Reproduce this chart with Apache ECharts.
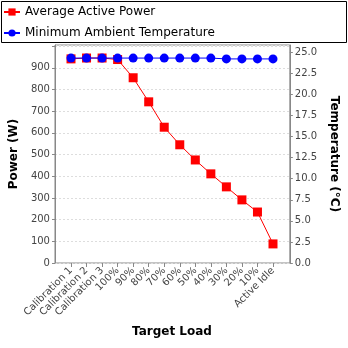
<!DOCTYPE html>
<html>
<head>
<meta charset="utf-8">
<script src="https://cdn.jsdelivr.net/npm/echarts@6/dist/echarts.min.js"></script>
<style>html,body{margin:0;padding:0;background:#fff}#c{width:348px;height:348px}</style>
</head>
<body>
<div id="c"></div>
<script>
const categories = ['Calibration 1','Calibration 2','Calibration 3','100%','90%','80%','70%','60%','50%','40%','30%','20%','10%','Active Idle'];
const powerValues = [941, 945, 945, 938, 854, 743, 626, 545, 475, 411, 351, 291, 235, 88];
const tempValues = [24.3, 24.3, 24.3, 24.3, 24.3, 24.3, 24.3, 24.3, 24.3, 24.3, 24.2, 24.2, 24.2, 24.2];
const powerName = 'Average Active Power';
const tempName = 'Minimum Ambient Temperature';

const FONT = 'DejaVu Sans';
const PMAX = 1005, TMAX = 25.85;
const gridTop = 45, gridBottom = 85;
const chart = echarts.init(document.getElementById('c'), null, {renderer: 'canvas'});
chart.setOption({
  animation: false,
  backgroundColor: '#fff',
  textStyle: {fontFamily: FONT},
  graphic: [{
    type: 'rect', shape: {x: 1.5, y: 1.5, width: 345, height: 41},
    style: {fill: 'none', stroke: '#000', lineWidth: 1}, z: 0
  }],
  legend: {
    orient: 'vertical', left: 0, top: 0, padding: [6, 3], itemGap: 9, itemWidth: 16, itemHeight: 9,
    textStyle: {fontFamily: FONT, fontSize: 12, color: '#000'},
    data: [powerName, tempName]
  },
  grid: [
    {left: 53, right: 57, top: gridTop, bottom: gridBottom, show: true, borderColor: '#888', borderWidth: 1, backgroundColor: '#fff'},
    {left: 71, right: 75, top: gridTop, bottom: gridBottom}
  ],
  xAxis: [
    {type: 'value', gridIndex: 0, min: 0, max: 1, show: false},
    {type: 'category', gridIndex: 1, data: categories, boundaryGap: false,
     axisLine: {show: false},
     axisTick: {show: true, length: 4, lineStyle: {color: '#888'}},
     axisLabel: {rotate: 45, fontSize: 10, color: '#444', margin: 6, interval: 0},
     name: 'Target Load', nameLocation: 'middle', nameGap: 63,
     nameTextStyle: {fontSize: 12, fontWeight: 'bold', color: '#000'}}
  ],
  yAxis: [
    {type: 'value', gridIndex: 0, position: 'left', min: 0, max: PMAX, interval: 100,
     axisLine: {show: true, lineStyle: {color: '#888'}},
     axisTick: {show: true, length: 3, lineStyle: {color: '#888'}},
     axisLabel: {fontSize: 10, color: '#444', margin: 5, showMaxLabel: false,
       formatter: v => (v > 950 ? '' : String(v))},
     splitLine: {show: true, lineStyle: {color: '#ddd', type: [2, 2]}},
     name: 'Power (W)', nameLocation: 'middle', nameRotate: 90, nameGap: 31,
     nameTextStyle: {fontSize: 12, fontWeight: 'bold', color: '#000'}},
    {type: 'value', gridIndex: 0, position: 'right', min: 0, max: TMAX, interval: 2.5,
     axisLine: {show: true, lineStyle: {color: '#888'}},
     axisTick: {show: true, length: 3, lineStyle: {color: '#888'}},
     axisLabel: {fontSize: 10, color: '#444', margin: 5, showMaxLabel: false, formatter: v => v.toFixed(1)},
     splitLine: {show: false},
     name: 'Temperature (°C)', nameLocation: 'middle', nameRotate: -90, nameGap: 35,
     nameTextStyle: {fontSize: 12, fontWeight: 'bold', color: '#000'}},
    {type: 'value', gridIndex: 1, min: 0, max: PMAX, show: false},
    {type: 'value', gridIndex: 1, min: 0, max: TMAX, show: false}
  ],
  series: [
    {name: powerName, type: 'line', xAxisIndex: 1, yAxisIndex: 2, data: powerValues,
     symbol: 'rect', symbolSize: 9, color: '#ff0000',
     lineStyle: {color: '#ff0000', width: 1}, itemStyle: {color: '#ff0000'}, z: 3},
    {name: tempName, type: 'line', xAxisIndex: 1, yAxisIndex: 3, data: tempValues,
     symbol: 'circle', symbolSize: 9, color: '#0000ff',
     lineStyle: {color: '#0000ff', width: 1}, itemStyle: {color: '#0000ff'}, z: 4}
  ]
});
</script>
</body>
</html>
